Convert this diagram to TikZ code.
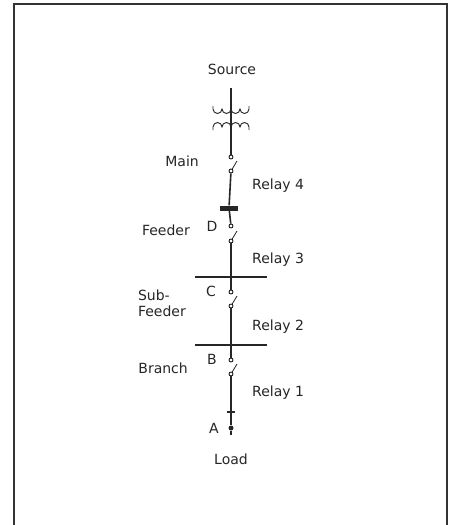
\documentclass[tikz,border=0pt]{standalone}
\usepackage{fontspec}
\setmainfont{DejaVu Sans}
\begin{document}
\begin{tikzpicture}[x=1pt,y=-1pt,
  lbl/.style={font=\fontsize{14}{16}\selectfont, inner sep=0pt, text=black!85},
  term/.style={circle, draw, line width=0.8pt, minimum size=4pt, inner sep=0pt, fill=white},
  wire/.style={line width=1.6pt, black!85},
  bus/.style={line width=1.3pt, black!85},
  blade/.style={line width=0.8pt, black!85},
  coil/.style={line width=0.9pt, black!85}]
\useasboundingbox (0,0) rectangle (452,525);
% frame
\draw[line width=1.4pt, black!80] (14,525) -- (14,4) -- (447,4) -- (447,525);
% labels
\node[lbl] (source) at (232,69) {Source};
\node[lbl] (load) at (231,459) {Load};
\node[lbl, anchor=east] (main) at (199,161) {Main};
\node[lbl, anchor=east] (feeder) at (190,230) {Feeder};
\node[lbl, anchor=east, align=left] (subfeeder) at (186,303) {Sub-\\Feeder};
\node[lbl, anchor=east] (branch) at (188,368) {Branch};
\node[lbl, anchor=west] (r4) at (252,186) {Relay 4};
\node[lbl, anchor=west] (r3) at (252,260) {Relay 3};
\node[lbl, anchor=west] (r2) at (252,327) {Relay 2};
\node[lbl, anchor=west] (r1) at (252,393) {Relay 1};
\node[lbl] (lD) at (212,226) {D};
\node[lbl] (lC) at (211,291) {C};
\node[lbl] (lB) at (212,359) {B};
\node[lbl] (lA) at (214,428) {A};
% transformer
\coordinate (s0) at (231,88);
\coordinate (t1) at (231,150);
\draw[wire] (s0) -- (t1);
\draw[coil] (213,106) -- (213,109) arc[start angle=180,end angle=0,radius=4.5]
  arc[start angle=180,end angle=0,radius=4.5]
  arc[start angle=180,end angle=0,radius=4.5]
  arc[start angle=180,end angle=0,radius=4.5] -- (249,106);
\draw[coil] (213,130) -- (213,127) arc[start angle=180,end angle=360,radius=4.5]
  arc[start angle=180,end angle=360,radius=4.5]
  arc[start angle=180,end angle=360,radius=4.5]
  arc[start angle=180,end angle=360,radius=4.5] -- (249,130);
% main switch
\node[term] (m1) at (231,157) {};
\node[term] (m2) at (231,171) {};
\draw[wire] (t1) -- (m1);
\draw[blade] (m2) -- (237,161);
% bar
\node[fill=black!85, minimum width=18pt, minimum height=5pt, inner sep=0pt] (bar) at (229,208) {};
% D switch
\node[term] (d1) at (231,226) {};
\node[term] (d2) at (231,241) {};
\draw[wire] (m2) -- (bar) -- (d1);
\draw[blade] (d2) -- (237,231);
% bus C
\coordinate (cbl) at (195,277);
\coordinate (cbr) at (267,277);
\draw[bus] (cbl) -- (cbr);
\coordinate (cj) at (231,277);
\node[term] (c1) at (231,292) {};
\node[term] (c2) at (231,306) {};
\draw[wire] (d2) -- (cj) -- (c1);
\draw[blade] (c2) -- (237,296);
% bus B
\coordinate (bbl) at (195,345);
\coordinate (bbr) at (267,345);
\draw[bus] (bbl) -- (bbr);
\coordinate (bj) at (231,345);
\node[term] (b1) at (231,360) {};
\node[term] (b2) at (231,374) {};
\draw[wire] (c2) -- (bj) -- (b1);
\draw[blade] (b2) -- (237,364);
% A
\coordinate (atick) at (231,412);
\node[circle, fill=black!85, minimum size=5pt, inner sep=0pt] (adot) at (231,428) {};
\coordinate (aend) at (231,435);
\draw[wire] (b2) -- (atick) -- (adot) -- (aend);
\draw[line width=1.2pt, black!85] (227,412) -- (235,412);
\end{tikzpicture}
\end{document}
